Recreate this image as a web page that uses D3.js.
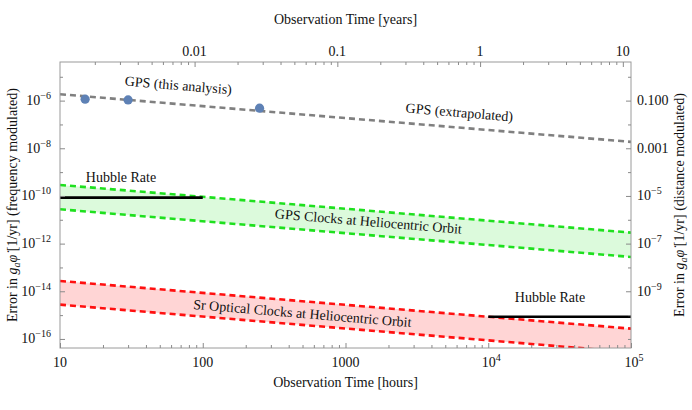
<!DOCTYPE html>
<html><head><meta charset="utf-8">
<script src="https://cdn.jsdelivr.net/npm/d3@7"></script>
<style>body{margin:0;background:#fff} svg text{font-family:"Liberation Serif",serif !important;}</style>
</head><body><svg id="c" width="692" height="410"></svg>
<script>
// ---- data ----
const extrapHours = [10, 1e5];
const gpsExtrapolated = [1.85e-6, 1.85e-8];
const gpsHours = [15, 30, 250];
const gpsErrors = [1.15e-6, 1.07e-6, 4.8e-7];
const bandHours = [10, 1e5];
const gpsClockUpper = [2.9e-10, 2.9e-12];
const gpsClockLower = [2.75e-11, 2.75e-13];
const srClockUpper = [2.7e-14, 2.7e-16];
const srClockLower = [2.75e-15, 2.75e-17];
const hubbleLeftHours = [10, 100];
const hubbleRightHours = [1e4, 1e5];
const hubbleRate = 8.5e-11;
const bottomTicks = [10, 100, 1000, 1e4, 1e5];
const bottomLabels = ["10", "100", "1000", "10^4", "10^5"];
const topTicks = [0.01, 0.1, 1, 10];
const topLabels = ["0.01", "0.1", "1", "10"];
const leftTicks = [1e-16, 1e-14, 1e-12, 1e-10, 1e-8, 1e-6];
const leftLabels = ["10^-16", "10^-14", "10^-12", "10^-10", "10^-8", "10^-6"];
const rightTicks = [1e-9, 1e-7, 1e-5, 1e-3, 1e-1];
const rightLabels = ["10^-9", "10^-7", "10^-5", "0.001", "0.100"];
const hoursPerYear = 8766;
const distanceFactor = 1e5;

// ---- layout ----
const L = 60, R = 631, T = 62, B = 348;
const FS = 14;
const FONT = "Liberation Serif";
const svg = d3.select("#c");
const addText = (parent) => parent.append("text").attr("font-family", FONT).attr("fill", "#111");
const x = d3.scaleLog().domain([10, 1e5]).range([L, R]);
const xTop = d3.scaleLog().domain([10 / hoursPerYear, 1e5 / hoursPerYear]).range([L, R]);
const y = d3.scaleLog().domain([Math.pow(10, -16.38), Math.pow(10, -4.38)]).range([B, T]);
const yR = d3.scaleLog().domain(y.domain().map(d => d * distanceFactor)).range([B, T]);

svg.append("clipPath").attr("id", "clip").append("rect")
  .attr("x", L).attr("y", T).attr("width", R - L).attr("height", B - T);
const plot = svg.append("g").attr("clip-path", "url(#clip)");

// bands
function band(upper, lower, fill, stroke) {
  const pts = bandHours.map((h, i) => ({h, u: upper[i], l: lower[i]}));
  plot.append("path").datum(pts)
    .attr("d", d3.area().x(d => x(d.h)).y0(d => y(d.l)).y1(d => y(d.u)))
    .attr("fill", fill);
  [upper, lower].forEach(arr => {
    plot.append("path").datum(bandHours.map((h, i) => [h, arr[i]]))
      .attr("d", d3.line().x(d => x(d[0])).y(d => y(d[1])))
      .attr("fill", "none").attr("stroke", stroke).attr("stroke-width", 2.6)
      .attr("stroke-dasharray", "6,4");
  });
}
band(gpsClockUpper, gpsClockLower, "#dcfadc", "#1fe01f");
band(srClockUpper, srClockLower, "#ffd5d5", "#ff1010");

// gps extrapolated
plot.append("path").datum(extrapHours.map((h, i) => [h, gpsExtrapolated[i]]))
  .attr("d", d3.line().x(d => x(d[0])).y(d => y(d[1])))
  .attr("fill", "none").attr("stroke", "#808080").attr("stroke-width", 2.6)
  .attr("stroke-dasharray", "6,4");

// hubble lines
plot.append("path").datum(hubbleLeftHours)
  .attr("d", d3.line().x(d => x(d)).y(() => y(hubbleRate)))
  .attr("stroke", "#000").attr("stroke-width", 2.6);
plot.append("path").datum(hubbleRightHours)
  .attr("d", d3.line().x(d => x(d)).y(() => yR(hubbleRate)))
  .attr("stroke", "#000").attr("stroke-width", 2.6);

// gps points
plot.selectAll("circle.gps").data(gpsHours).enter().append("circle")
  .attr("cx", d => x(d)).attr("cy", (d, i) => y(gpsErrors[i])).attr("r", 4.6)
  .attr("fill", "#5e81b5");

// frame
svg.append("rect").attr("x", L).attr("y", T).attr("width", R - L).attr("height", B - T)
  .attr("fill", "none").attr("stroke", "#9a9a9a").attr("stroke-width", 1);

// ticks
function styleAxis(g) {
  g.select(".domain").remove();
  g.selectAll("line").attr("stroke", "#8a8a8a");
  g.selectAll("text").remove();
}
const decades = (a, b) => d3.range(a, b + 1).map(e => Math.pow(10, e));
const minorLog = (lo, hi) => {
  const out = [];
  for (let e = -4; e <= 5; e++) for (let k = 2; k <= 9; k++) {
    const v = k * Math.pow(10, e);
    if (v > lo * 1.0001 && v < hi * 0.9999) out.push(v);
  }
  return out;
};
const notIn = (arr) => v => !arr.some(t => Math.abs(Math.log10(t) - Math.log10(v)) < 0.01);
svg.append("g").attr("transform", `translate(0,${B})`)
  .call(d3.axisBottom(x).tickValues(bottomTicks).tickSize(-5)).call(styleAxis);
svg.append("g").attr("transform", `translate(0,${B})`)
  .call(d3.axisBottom(x).tickValues(minorLog(10, 1e5)).tickSize(-3)).call(styleAxis);
svg.append("g").attr("transform", `translate(0,${T})`)
  .call(d3.axisTop(xTop).tickValues(topTicks).tickSize(-5)).call(styleAxis);
svg.append("g").attr("transform", `translate(0,${T})`)
  .call(d3.axisTop(xTop).tickValues(minorLog(10 / hoursPerYear, 1e5 / hoursPerYear)).tickSize(-3)).call(styleAxis);
svg.append("g").attr("transform", `translate(${L},0)`)
  .call(d3.axisLeft(y).tickValues(leftTicks).tickSize(-5)).call(styleAxis);
svg.append("g").attr("transform", `translate(${L},0)`)
  .call(d3.axisLeft(y).tickValues(decades(-16, -5).filter(notIn(leftTicks))).tickSize(-3)).call(styleAxis);
svg.append("g").attr("transform", `translate(${R},0)`)
  .call(d3.axisRight(yR).tickValues(rightTicks).tickSize(-5)).call(styleAxis);
svg.append("g").attr("transform", `translate(${R},0)`)
  .call(d3.axisRight(yR).tickValues(decades(-11, 0).filter(notIn(rightTicks))).tickSize(-3)).call(styleAxis);

// tick labels
function setLabel(sel, s) {
  const m = s.match(/^10\^(.+)$/);
  if (m) {
    sel.append("tspan").text("10");
    sel.append("tspan").attr("dy", -6).attr("font-size", 10).text(m[1].replace("-", "\u2212"));
  } else sel.text(s);
}
bottomTicks.forEach((t, i) => {
  const tx = addText(svg).attr("x", x(t) + (bottomLabels[i].includes("^") ? 3 : 0)).attr("y", 367)
    .attr("text-anchor", "middle").attr("font-size", FS);
  setLabel(tx, bottomLabels[i]);
});
topTicks.forEach((t, i) => {
  addText(svg).attr("x", xTop(t)).attr("y", 56).attr("text-anchor", "middle")
    .attr("font-size", FS).text(topLabels[i]);
});
leftTicks.forEach((t, i) => {
  const tx = addText(svg).attr("x", 51).attr("y", y(t) + 4.5).attr("text-anchor", "end").attr("font-size", FS);
  setLabel(tx, leftLabels[i]);
});
rightTicks.forEach((t, i) => {
  const tx = addText(svg).attr("x", 637).attr("y", yR(t) + 4.5).attr("text-anchor", "start").attr("font-size", FS);
  setLabel(tx, rightLabels[i]);
});

// axis titles
addText(svg).attr("x", (L + R) / 2).attr("y", 387).attr("text-anchor", "middle")
  .attr("font-size", FS).text("Observation Time [hours]");
addText(svg).attr("x", (L + R) / 2).attr("y", 24).attr("text-anchor", "middle")
  .attr("font-size", FS).text("Observation Time [years]");
function yTitle(xp, tail) {
  const t = addText(svg).attr("transform", `translate(${xp},205) rotate(-90)`)
    .attr("text-anchor", "middle").attr("font-size", FS);
  t.append("tspan").text("Error in ");
  t.append("tspan").attr("font-style", "italic").text("g");
  t.append("tspan").attr("font-style", "italic").attr("font-size", 10).attr("dy", 3).text("a");
  t.append("tspan").attr("font-style", "italic").attr("dy", -3).text("\u03C6\u0307");
  t.append("tspan").text(" [1/yr] " + tail);
}
yTitle(17, "(frequency modulated)");
yTitle(684, "(distance modulated)");

// annotations
const ang = Math.abs(Math.atan((y(1e-10) - y(1e-10 / Math.sqrt(10))) / (x(100) - x(10))) * 180 / Math.PI);
function note(cx, cy, txt, rot) {
  addText(svg).attr("transform", `translate(${cx},${cy}) rotate(${rot})`)
    .attr("text-anchor", "middle").attr("font-size", FS).text(txt);
}
note(178, 90, "GPS (this analysis)", ang);
note(459, 117, "GPS (extrapolated)", ang);
note(121, 182, "Hubble Rate", 0);
note(368, 226, "GPS Clocks at Heliocentric Orbit", ang);
note(302, 318, "Sr Optical Clocks at Heliocentric Orbit", ang);
note(550, 302, "Hubble Rate", 0);
</script></body></html>
